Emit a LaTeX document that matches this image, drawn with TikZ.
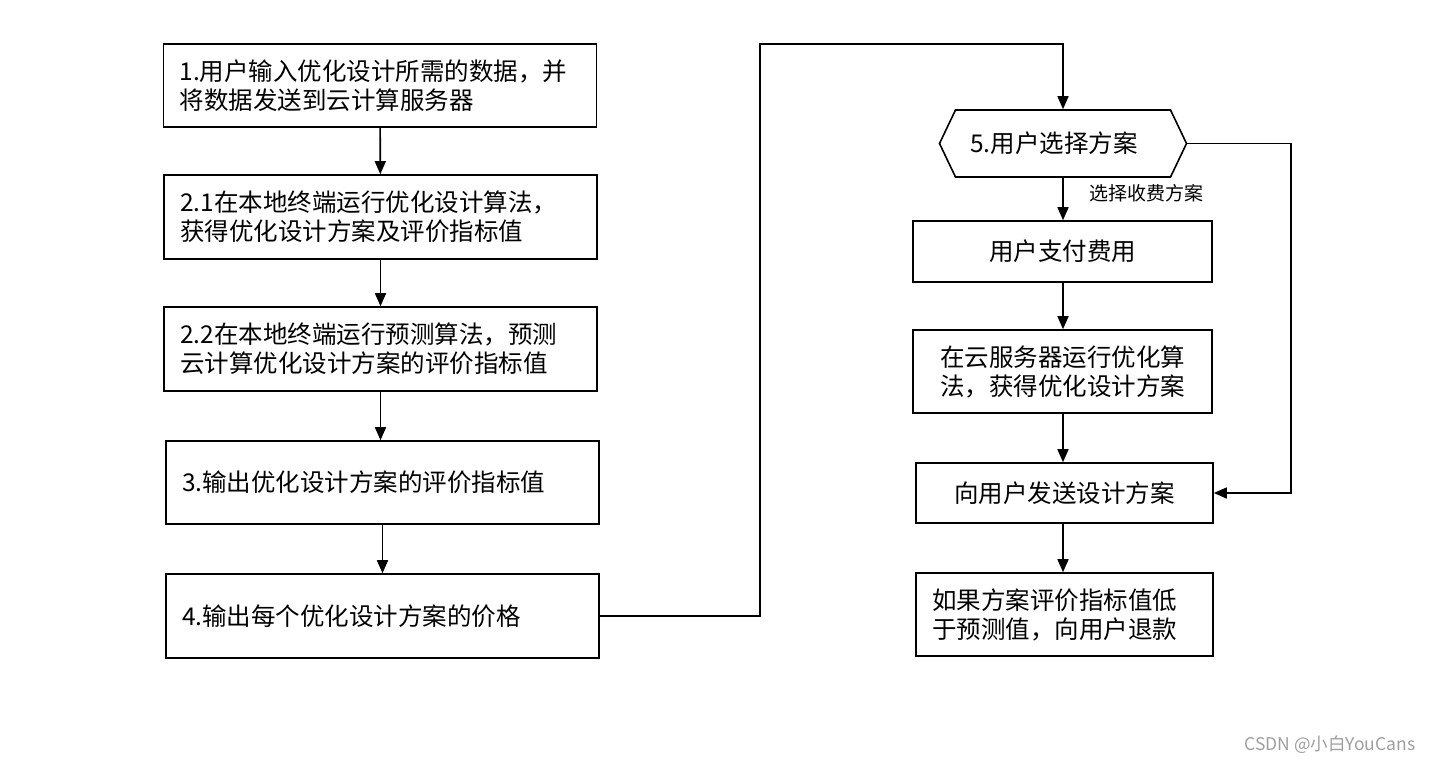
\documentclass[tikz,border=0pt]{standalone}
\usepackage{fontspec}
\setmainfont{Noto Sans CJK SC}
\usetikzlibrary{arrows.meta,shapes.symbols}

\begin{document}
\begin{tikzpicture}[x=1pt,y=-1pt]
        % Styles
        \tikzstyle{process box}=[draw,line width=1.6pt,minimum width=433pt,minimum height=84pt,
            text width=401pt,align=left,inner xsep=16pt,font=\fontsize{24.5}{29}\selectfont]
        \tikzstyle{cloud box}=[draw,line width=1.6pt,minimum width=299pt,minimum height=84pt,
            align=center,font=\fontsize{24.5}{29}\selectfont]
        \tikzstyle{choice box}=[draw,line width=1.6pt,shape=signal,signal to=east and west,
            signal pointer angle=129,minimum width=247pt,minimum height=67pt,
            font=\fontsize{24.5}{29}\selectfont]
        \tikzstyle{flow line}=[line width=1.6pt,-{Triangle[length=13pt,width=11pt]}]
        \useasboundingbox (0,0) rectangle (1432,763);
        %left column
        \node[process box,minimum width=432pt,minimum height=83pt] (s1) at (380,85.5)
            {1.用户输入优化设计所需的数据，并\\将数据发送到云计算服务器};
        \node[process box] (s21) at (380.5,217)
            {2.1在本地终端运行优化设计算法，\\获得优化设计方案及评价指标值};
        \node[process box] (s22) at (380.5,349)
            {2.2在本地终端运行预测算法，预测\\云计算优化设计方案的评价指标值};
        \node[process box,minimum height=83pt] (s3) at (382.5,482.5)
            {3.输出优化设计方案的评价指标值};
        \node[process box] (s4) at (382.5,616)
            {4.输出每个优化设计方案的价格};
        %right column
        \node[choice box] (s5) at (1063,143.5) {\hspace*{-18pt}5.用户选择方案};
        \node[cloud box,minimum height=61pt] (r1) at (1062.5,251.5) {用户支付费用};
        \node[cloud box,minimum height=83pt] (r2) at (1062.5,371.5)
            {在云服务器运行优化算\\法，获得优化设计方案};
        \node[cloud box,minimum width=297pt,minimum height=60pt] (r3) at (1064.5,493)
            {向用户发送设计方案};
        \node[cloud box,minimum width=297pt,minimum height=83pt,
            text width=265pt,align=left,inner xsep=16pt] (r4) at (1064.5,614.5)
            {如果方案评价指标值低\\于预测值，向用户退款};
        %turning points
        \coordinate (top turn) at (760,44);
        \coordinate (back turn) at (1291,493);
        %arrows
        \draw[flow line] (s1) -- (s21);
        \draw[flow line] (s21) -- (s22);
        \draw[flow line] (s22) -- (s3.north -| s22);
        \draw[flow line] (s3) -- (s4);
        \draw[flow line] (s4.east) -| (top turn) -| (s5.north);
        \draw[flow line] (s5) -- node[pos=0.36,right=22pt,font=\fontsize{19}{22}\selectfont]{选择收费方案} (s5 |- r1.north);
        \draw[flow line] (r1.south -| s5) -- (s5 |- r2.north);
        \draw[flow line] (r2.south -| s5) -- (s5 |- r3.north);
        \draw[flow line] (r3.south -| s5) -- (s5 |- r4.north);
        \draw[flow line] (s5.east) -| (back turn) -- (r3.east);
        %watermark
        \node[anchor=east,text=black!38,font=\fontsize{17.5}{20}\selectfont] (mark) at (1419,745) {CSDN @小白YouCans};
\end{tikzpicture}
\end{document}
